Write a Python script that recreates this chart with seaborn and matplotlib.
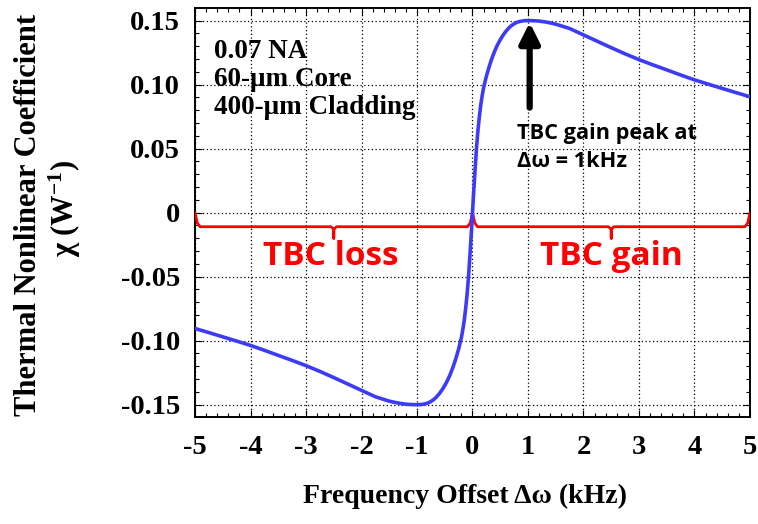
import matplotlib
matplotlib.use("Agg")
import matplotlib.pyplot as plt
import seaborn as sns
import pandas as pd
from matplotlib.ticker import MultipleLocator, FixedLocator

# Frequency offset (kHz) and thermal nonlinear coefficient (1/W)
freq_khz = [-5.0, -4.75, -4.5, -4.25, -4.0, -3.75, -3.5, -3.25, -3.0, -2.75,
            -2.5, -2.25, -2.0, -1.75, -1.5, -1.4, -1.3, -1.2, -1.1, -1.0,
            -0.95, -0.9, -0.85, -0.8, -0.75, -0.7, -0.65, -0.6, -0.55, -0.5,
            -0.45, -0.4, -0.35, -0.3, -0.25, -0.2, -0.175, -0.15, -0.125,
            -0.1, -0.075, -0.05, -0.02, 0.0,
            0.02, 0.05, 0.075, 0.1, 0.125, 0.15, 0.175, 0.2, 0.25, 0.3, 0.35,
            0.4, 0.45, 0.5, 0.55, 0.6, 0.65, 0.7, 0.75, 0.8, 0.85, 0.9, 0.95,
            1.0, 1.1, 1.2, 1.3, 1.4, 1.5, 1.75, 2.0, 2.25, 2.5, 2.75, 3.0,
            3.25, 3.5, 3.75, 4.0, 4.25, 4.5, 4.75, 5.0]
chi = [-0.0905, -0.0937, -0.0970, -0.1003, -0.1037, -0.1075, -0.1115, -0.1154,
       -0.1195, -0.1240, -0.1288, -0.1338, -0.1388, -0.1438, -0.1472, -0.1482,
       -0.1490, -0.1496, -0.1499, -0.1500, -0.1499, -0.1497, -0.1493, -0.1486,
       -0.1475, -0.1460, -0.1440, -0.1415, -0.1385, -0.1350, -0.1310, -0.1262,
       -0.1205, -0.1140, -0.1065, -0.0975, -0.0915, -0.0845, -0.0755, -0.0650,
       -0.0520, -0.0360, -0.0150, 0.0,
       0.0150, 0.0360, 0.0520, 0.0650, 0.0755, 0.0845, 0.0915, 0.0975, 0.1065,
       0.1140, 0.1205, 0.1262, 0.1310, 0.1350, 0.1385, 0.1415, 0.1440, 0.1460,
       0.1475, 0.1486, 0.1493, 0.1497, 0.1499, 0.1500, 0.1499, 0.1496, 0.1490,
       0.1482, 0.1472, 0.1438, 0.1388, 0.1338, 0.1288, 0.1240, 0.1195, 0.1154,
       0.1115, 0.1075, 0.1037, 0.1003, 0.0970, 0.0937, 0.0905]

x_ticks = [-5, -4, -3, -2, -1, 0, 1, 2, 3, 4, 5]
x_tick_labels = ["-5", "-4", "-3", "-2", "-1", "0", "1", "2", "3", "4", "5"]
y_ticks = [-0.15, -0.10, -0.05, 0.0, 0.05, 0.10, 0.15]
y_tick_labels = ["-0.15", "-0.10", "-0.05", "0", "0.05", "0.10", "0.15"]

regions = ["TBC loss", "TBC gain"]
region_spans = [(-5.0, 0.0), (0.0, 5.0)]
region_label_x = [-2.55, 2.5]

sns.set_theme(style="white")
serif = "Liberation Serif"
plt.rcParams["font.family"] = [serif, "DejaVu Serif"]
plt.rcParams["text.color"] = "black"
plt.rcParams["xtick.color"] = "black"
plt.rcParams["ytick.color"] = "black"
plt.rcParams["mathtext.fontset"] = "custom"
plt.rcParams["mathtext.rm"] = "Liberation Serif:bold"
plt.rcParams["mathtext.it"] = "Liberation Serif:bold"
plt.rcParams["mathtext.bf"] = "Liberation Serif:bold"

df = pd.DataFrame({"freq": freq_khz, "chi": chi})

fig = plt.figure(figsize=(7.58, 5.24), dpi=100)
ax = fig.add_axes([0.2573, 0.2042, 0.7321, 0.7805])

sns.lineplot(data=df, x="freq", y="chi", ax=ax, color="#3c3cf8",
             linewidth=2.6, zorder=4)

ax.set_xlim(-5, 5)
ax.set_ylim(-0.1596, 0.1598)
ax.xaxis.set_major_locator(FixedLocator(x_ticks))
ax.yaxis.set_major_locator(FixedLocator(y_ticks))
ax.set_xticklabels(x_tick_labels)
ax.set_yticklabels(y_tick_labels)
ax.xaxis.set_minor_locator(MultipleLocator(0.2))
ax.yaxis.set_minor_locator(MultipleLocator(0.01))
ax.tick_params(which="both", direction="in", top=True, right=True,
               bottom=True, left=True, color="black")
ax.tick_params(which="major", length=5, width=0.8)
ax.tick_params(which="minor", length=3, width=0.8)
ax.tick_params(axis="x", which="major", pad=13)
ax.tick_params(axis="y", which="major", pad=11)
for lab in ax.get_xticklabels() + ax.get_yticklabels():
    lab.set_fontfamily(serif)
    lab.set_fontweight("bold")
    lab.set_fontsize(20.5)
    lab.set_color("black")

ax.grid(True, which="major", linestyle=(0, (1, 2)), color="black",
        linewidth=0.9)
for sp in ax.spines.values():
    sp.set_color("black")
    sp.set_linewidth(1.4)
ax.set_xlabel("")
ax.set_ylabel("")

# Red braces marking the loss and gain regions
for name, (x0, x1), lx in zip(regions, region_spans, region_label_x):
    mid = (x0 + x1) / 2
    bx = [x0, x0 + 0.04, x0 + 0.09, mid - 0.05, mid, mid, mid, mid + 0.05,
          x1 - 0.09, x1 - 0.04, x1]
    by = [0.0, -0.008, -0.011, -0.011, -0.013, -0.020, -0.013, -0.011,
          -0.011, -0.008, 0.0]
    ax.plot(bx, by, color="red", linewidth=2.0, zorder=3,
            solid_joinstyle="round")
    ax.text(lx, -0.034, name, color="red", fontsize=24,
            fontweight="bold", family="Open Sans", ha="center", va="center",
            zorder=5)

# Arrow at the gain peak
ax.annotate("", xy=(1.03, 0.1485), xytext=(1.03, 0.082),
            arrowprops=dict(arrowstyle="-|>,head_width=0.5,head_length=1.0",
                            color="black", linewidth=4.5, shrinkA=0, shrinkB=0),
            zorder=6)
ax.text(0.80, 0.051, "TBC gain peak at\nΔω = 1kHz", color="black",
        fontsize=15.7, fontweight="bold", family="Open Sans", ha="left",
        va="center", linespacing=1.45, zorder=5)

# Fiber parameters
ax.text(-4.66, 0.104, "0.07 NA\n60-μm Core\n400-μm Cladding", color="black",
        fontsize=19.5, fontweight="bold", family=serif, ha="left",
        va="center", linespacing=1.17, zorder=5)

fig.text(0.613, 0.052, "Frequency Offset Δω (kHz)", fontsize=20,
         fontweight="bold", family=serif, ha="center", va="center",
         color="black")
fig.text(0.037, 0.5897, "Thermal Nonlinear Coefficient", fontsize=22,
         fontweight="bold", family=serif, ha="center", va="center",
         rotation=90, color="black")
fig.text(0.086, 0.603, r"χ (W$^{-1}$)", fontsize=22,
         fontweight="bold", family=serif, ha="center", va="center",
         rotation=90, color="black")

fig.savefig("out.png", dpi=100)
